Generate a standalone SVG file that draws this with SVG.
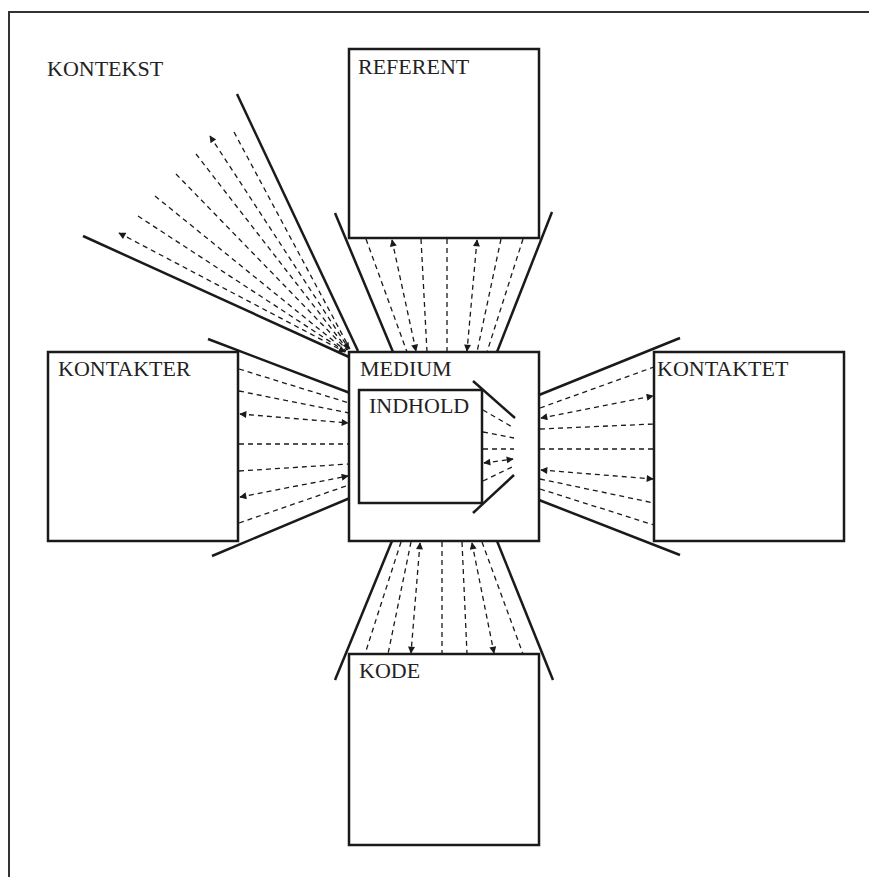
<svg xmlns="http://www.w3.org/2000/svg" width="869" height="877" viewBox="0 0 869 877">
<defs>
<marker id="ah" viewBox="0 0 10 10" refX="9" refY="5" markerWidth="8" markerHeight="7" markerUnits="userSpaceOnUse" orient="auto-start-reverse">
<path d="M0,0 L10,5 L0,10 Z" fill="#1a1a1a"/>
</marker>
<style>
.box{fill:#fff;stroke:#1a1a1a;stroke-width:2.5}
.wall{fill:none;stroke:#1a1a1a;stroke-width:2.5}
.d{fill:none;stroke:#1a1a1a;stroke-width:1.3;stroke-dasharray:5 4}
.a{marker-start:url(#ah);marker-end:url(#ah)}
.lbl{font-family:"Liberation Serif","Times New Roman",serif;font-size:22px;fill:#222}
</style>
</defs>
<rect width="869" height="877" fill="#fff"/>
<g id="frame">
<path d="M9,877 V12 H869" fill="none" stroke="#333" stroke-width="2"/>
<text class="lbl" x="47" y="76">KONTEKST</text>
</g>
<g id="connectors">
<!-- context fan -->
<line class="wall" x1="237" y1="94" x2="358" y2="351"/>
<line class="wall" x1="83" y1="236" x2="349" y2="357"/>
<line class="d" x1="234" y1="132" x2="350" y2="349"/>
<line class="d a" x1="210" y1="136" x2="349" y2="349"/>
<line class="d" x1="196" y1="154" x2="348" y2="350"/>
<line class="d" x1="176" y1="174" x2="347" y2="350"/>
<line class="d" x1="155" y1="196" x2="346" y2="351"/>
<line class="d" x1="138" y1="216" x2="346" y2="352"/>
<line class="d a" x1="119" y1="233" x2="345" y2="352"/>
<!-- referent funnel -->
<line class="wall" x1="335" y1="213" x2="393" y2="352"/>
<line class="wall" x1="552" y1="212" x2="497" y2="352"/>
<line class="d" x1="366" y1="239" x2="407" y2="352"/>
<line class="d a" x1="392" y1="240" x2="416" y2="351"/>
<line class="d" x1="421" y1="239" x2="427" y2="352"/>
<line class="d" x1="447" y1="239" x2="447" y2="352"/>
<line class="d a" x1="477" y1="240" x2="467" y2="351"/>
<line class="d" x1="501" y1="239" x2="477" y2="352"/>
<line class="d" x1="523" y1="239" x2="487" y2="352"/>
<!-- kode funnel -->
<line class="wall" x1="392" y1="541" x2="335" y2="680"/>
<line class="wall" x1="497" y1="541" x2="553" y2="680"/>
<line class="d" x1="401" y1="542" x2="365" y2="654"/>
<line class="d" x1="411" y1="542" x2="388" y2="654"/>
<line class="d a" x1="420" y1="543" x2="411" y2="653"/>
<line class="d" x1="442" y1="542" x2="442" y2="654"/>
<line class="d" x1="462" y1="542" x2="467" y2="654"/>
<line class="d a" x1="472" y1="543" x2="494" y2="653"/>
<line class="d" x1="482" y1="542" x2="523" y2="654"/>
<!-- kontakter funnel -->
<line class="wall" x1="208" y1="339" x2="350" y2="393"/>
<line class="wall" x1="212" y1="556" x2="350" y2="498"/>
<line class="d" x1="239" y1="369" x2="349" y2="403"/>
<line class="d" x1="239" y1="391" x2="349" y2="413"/>
<line class="d a" x1="240" y1="414" x2="348" y2="423"/>
<line class="d" x1="239" y1="444" x2="349" y2="444"/>
<line class="d" x1="239" y1="471" x2="349" y2="464"/>
<line class="d a" x1="240" y1="497" x2="348" y2="476"/>
<line class="d" x1="239" y1="523" x2="349" y2="485"/>
<!-- kontaktet funnel -->
<line class="wall" x1="539" y1="395" x2="680" y2="338"/>
<line class="wall" x1="539" y1="500" x2="680" y2="555"/>
<line class="d" x1="540" y1="408" x2="654" y2="367"/>
<line class="d a" x1="541" y1="418" x2="653" y2="396"/>
<line class="d" x1="540" y1="429" x2="654" y2="424"/>
<line class="d" x1="540" y1="449" x2="654" y2="449"/>
<line class="d a" x1="541" y1="470" x2="653" y2="479"/>
<line class="d" x1="540" y1="479" x2="654" y2="503"/>
<line class="d" x1="540" y1="489" x2="654" y2="525"/>
</g>
<g id="referent">
<rect class="box" x="349" y="49" width="190" height="189"/>
<text class="lbl" x="358" y="74">REFERENT</text>
</g>
<g id="kode">
<rect class="box" x="349" y="654" width="190" height="191"/>
<text class="lbl" x="359" y="678">KODE</text>
</g>
<g id="kontakter">
<rect class="box" x="48" y="352" width="190" height="189"/>
<text class="lbl" x="58" y="376">KONTAKTER</text>
</g>
<g id="kontaktet">
<rect class="box" x="654" y="352" width="190" height="189"/>
<text class="lbl" x="657" y="376">KONTAKTET</text>
</g>
<g id="medium">
<rect class="box" x="349" y="352" width="190" height="189"/>
<text class="lbl" x="360" y="376">MEDIUM</text>
</g>
<g id="indhold">
<rect class="box" x="359" y="390" width="123" height="113"/>
<text class="lbl" x="369" y="413">INDHOLD</text>
<line class="wall" x1="473" y1="381" x2="515" y2="418"/>
<line class="wall" x1="514" y1="475" x2="473" y2="513"/>
<line class="d" x1="483" y1="410" x2="514" y2="428"/>
<line class="d" x1="483" y1="432" x2="514" y2="438"/>
<line class="d" x1="483" y1="449" x2="514" y2="449"/>
<line class="d a" x1="484" y1="463" x2="513" y2="459"/>
<line class="d" x1="483" y1="481" x2="512" y2="467"/>
</g>
</svg>
